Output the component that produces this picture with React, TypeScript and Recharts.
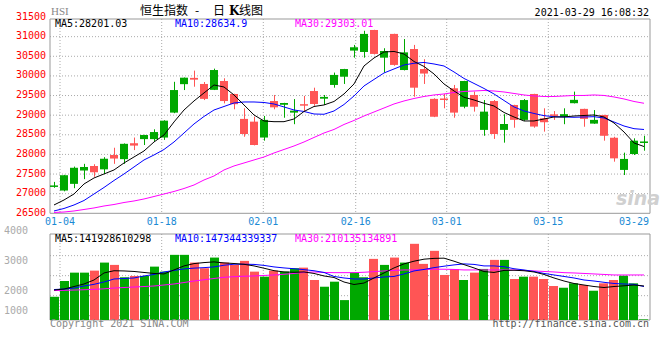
import React from 'react';
import { ComposedChart, Bar, Line, XAxis, YAxis, CartesianGrid, ReferenceArea } from 'recharts';

// ---------- data ----------
const OPEN = [27190, 27080, 27250, 27590, 27705, 27620, 27985, 27880, 28285, 28390,
  28390, 28430, 29065, 29790, 29950, 29795, 29645, 29870, 29540, 28905,
  28835, 28430, 29360, 29265, 29065, 29280, 29615, 29420, 29770, 29980,
  30645, 30610, 31170, 30465, 31070, 30150, 30685, 30175, 29415, 29425,
  29685, 29215, 29515, 28625, 29360, 28625, 29260, 28880, 29540, 28920,
  29020, 28960, 29305, 29160, 28785, 29005, 28425, 27605, 28010, 28300];
const HIGH = [27300, 27480, 27690, 27760, 27750, 27930, 28170, 28280, 28430, 28500,
  28640, 28870, 29850, 29960, 30135, 29845, 30185, 29940, 29545, 29175,
  28960, 28980, 29515, 29315, 29410, 29490, 29700, 29515, 30085, 30180,
  30790, 31150, 31175, 30705, 31075, 30940, 30790, 30425, 29430, 29540,
  29770, 29875, 29600, 29385, 29385, 29025, 29265, 29410, 29545, 29175,
  29105, 29175, 29600, 29165, 29130, 29010, 28450, 28045, 28410, 28475];
const LOW = [27150, 27060, 27140, 27370, 27430, 27500, 27760, 27760, 28110, 28240,
  28325, 28370, 29050, 29640, 29725, 29385, 29640, 29300, 29150, 28450,
  28230, 28350, 29150, 28935, 28770, 29080, 29240, 29260, 29700, 29795,
  30465, 30465, 30545, 30085, 30260, 30140, 29470, 29795, 28950, 29175,
  28935, 29175, 29090, 28475, 28395, 28300, 28680, 28855, 28680, 28580,
  28880, 28770, 29300, 28705, 28780, 28350, 27815, 27475, 27985, 28095];
const CLOSE = [27210, 27470, 27660, 27680, 27545, 27890, 27895, 28270, 28225, 28495,
  28570, 28860, 29640, 29955, 29905, 29415, 30150, 29360, 29280, 28520,
  28240, 28880, 29200, 29310, 29115, 29270, 29285, 29465, 30025, 30175,
  30730, 31070, 30560, 30635, 30280, 30600, 29700, 30060, 28960, 29415,
  29065, 29870, 29215, 29090, 28520, 28775, 28880, 29385, 28710, 28820,
  29005, 29025, 29390, 28905, 28880, 28475, 27900, 27885, 28350, 28330];

const MA5 = [26712, 26839, 26992, 27247, 27400, 27502, 27604, 27782, 27935, 28088,
  28317, 28495, 28827, 29132, 29362, 29566, 29769, 29718, 29515, 29260,
  29005, 28852, 28834, 28834, 28903, 29094, 29221, 29260, 29349, 29540,
  29795, 30254, 30457, 30610, 30623, 30559, 30368, 30241, 30050, 29795,
  29617, 29456, 29387, 29303, 29234, 29069, 28954, 28852, 28852, 28903,
  28954, 28954, 28979, 28992, 29005, 28954, 28801, 28572, 28292, 28201];
const MA10 = [26559, 26623, 26712, 26826, 26992, 27158, 27336, 27502, 27680, 27859,
  27986, 28126, 28317, 28546, 28776, 28967, 29132, 29221, 29311, 29336,
  29336, 29323, 29285, 29209, 29132, 29094, 29030, 29023, 29107, 29272,
  29489, 29744, 29910, 30075, 30177, 30279, 30322, 30343, 30304, 30253,
  30101, 29935, 29808, 29680, 29540, 29374, 29209, 29107, 29043, 28987,
  28961, 28954, 28946, 28954, 28961, 28928, 28826, 28724, 28656, 28635];
const MA30 = [26521, 26533, 26559, 26597, 26636, 26686, 26724, 26775, 26814, 26865,
  26928, 26992, 27056, 27132, 27221, 27349, 27451, 27604, 27706, 27782,
  27859, 27935, 28037, 28126, 28215, 28317, 28432, 28546, 28636, 28763,
  28865, 28979, 29081, 29183, 29285, 29362, 29425, 29476, 29515, 29540,
  29578, 29604, 29616, 29629, 29616, 29591, 29553, 29515, 29489, 29476,
  29476, 29489, 29502, 29502, 29515, 29502, 29464, 29413, 29349, 29303];

const VOLUME = [1783, 2315, 2597, 2597, 2665, 2936, 2858, 2441, 2485, 2485,
  2800, 2631, 3197, 3197, 2936, 2746, 3105, 2936, 2858, 2993,
  2631, 2461, 2665, 2631, 2746, 2766, 2349, 2122, 2292, 1671,
  2610, 2441, 3061, 2858, 3105, 2936, 3569, 2892, 3332, 2519,
  2712, 2349, 2597, 2722, 3027, 3027, 2383, 2461, 2461, 2383,
  2146, 2088, 2237, 2180, 1987, 2237, 2349, 2495, 2237, 1020];
const VOL_MA5 = [2010, 2044, 2129, 2214, 2349, 2586, 2661, 2654, 2637, 2603,
  2570, 2553, 2688, 2824, 2902, 2936, 2959, 2925, 2905, 2878,
  2824, 2746, 2664, 2620, 2610, 2620, 2570, 2485, 2434, 2281,
  2197, 2247, 2417, 2586, 2756, 2892, 2983, 3051, 3078, 3085,
  2983, 2868, 2756, 2634, 2603, 2671, 2678, 2661, 2620, 2536,
  2417, 2315, 2231, 2180, 2129, 2095, 2129, 2153, 2180, 2146];
const VOL_MA10 = [2027, 2044, 2078, 2146, 2203, 2281, 2383, 2400, 2417, 2485,
  2536, 2620, 2671, 2722, 2749, 2766, 2790, 2847, 2881, 2881,
  2875, 2841, 2790, 2756, 2729, 2698, 2661, 2603, 2468, 2417,
  2383, 2383, 2417, 2451, 2468, 2553, 2654, 2705, 2766, 2814,
  2858, 2892, 2875, 2824, 2824, 2797, 2729, 2688, 2637, 2570,
  2519, 2468, 2417, 2349, 2315, 2271, 2231, 2214, 2203, 2129];
const VOL_MA30 = [1993, 2000, 2010, 2020, 2034, 2051, 2078, 2095, 2112, 2129,
  2146, 2180, 2214, 2264, 2315, 2356, 2400, 2441, 2461, 2475,
  2485, 2502, 2519, 2542, 2570, 2603, 2620, 2603, 2597, 2597,
  2597, 2610, 2631, 2654, 2671, 2688, 2688, 2705, 2712, 2712,
  2705, 2688, 2688, 2688, 2688, 2688, 2688, 2671, 2654, 2637,
  2620, 2597, 2586, 2570, 2553, 2536, 2519, 2519, 2519, 2519];

const DATE_LABELS = ['01-04', '01-18', '02-01', '02-16', '03-01', '03-15', '03-29'];
const DATE_POS = [1, 11.17, 21.33, 30.57, 39.67, 49.83, 60];
const PRICE_TICKS = [26500, 27000, 27500, 28000, 28500, 29000, 29500, 30000, 30500, 31000, 31500];
const PRICE_GRID = [27000, 27500, 28000, 28500, 29000, 29500, 30000, 30500, 31000];
const VOL_TICKS = [1000, 2000, 3000, 4000];
const VOL_GRID = [1145, 1820, 2495, 3170];

// ---------- styles ----------
const RED = '#ff5555';
const GREEN = '#00a800';
const MONO = '"DejaVu Sans Mono", "Liberation Mono", monospace';
const CJK = '"Noto Sans CJK SC", sans-serif';
const GRID = '#aaaaaa';

const priceData = OPEN.map((o, i) => ({
  x: i + 0.4,
  range: [LOW[i], HIGH[i]],
  open: o, high: HIGH[i], low: LOW[i], close: CLOSE[i],
  ma5: MA5[i], ma10: MA10[i], ma30: MA30[i],
}));
const volData = VOLUME.map((v, i) => ({
  x: i + 0.4,
  vol: v,
  up: CLOSE[i] >= OPEN[i],
  ma5: VOL_MA5[i], ma10: VOL_MA10[i], ma30: VOL_MA30[i],
}));

const Candle = (p: any) => {
  const { x, y, width, height, payload } = p;
  if (x == null || y == null) return null;
  const { open, close, high, low } = payload;
  const color = close >= open ? GREEN : RED;
  const span = high - low;
  const yOf = (v: number) => (span === 0 ? y : y + ((high - v) / span) * height);
  const top = yOf(Math.max(open, close));
  const bot = yOf(Math.min(open, close));
  const cx = Math.floor(x + width / 2) + 0.5;
  return (
    <g>
      <line x1={cx} x2={cx} y1={y} y2={y + height} stroke={color} strokeWidth={1} />
      <rect x={Math.round(x)} y={top} width={width} height={Math.max(bot - top, 1.5)} fill={color} />
    </g>
  );
};

const VolBar = (p: any) => {
  const { x, y, width, height, payload } = p;
  if (x == null || y == null) return null;
  return <rect x={Math.ceil(x)} y={y} width={width} height={Math.max(height, 1)} fill={payload.up ? GREEN : RED} />;
};

const DateTick = (p: any) => {
  const { x, y, payload } = p;
  const idx = DATE_POS.indexOf(payload.value);
  const last = idx === DATE_POS.length - 1;
  return (
    <text x={last ? x - 1 : x} y={y} dy={7} textAnchor={last ? 'end' : 'middle'} fill="#1a8ad4" fontSize={10} fontFamily={MONO}>
      {DATE_LABELS[idx]}
    </text>
  );
};

const PriceTick = (p: any) => {
  const { x, y, payload } = p;
  return (
    <text x={x} y={y} dy={2.5} textAnchor="end" fill="#ff0000" fontSize={10} fontFamily={MONO}>
      {payload.value}
    </text>
  );
};

const VolTick = (p: any) => {
  const { x, y, payload } = p;
  const dy = payload.value === VOL_TICKS[0] ? -5.7 : 3.3;
  return (
    <text x={x} y={y} dy={dy} textAnchor="end" fill="#aaaaaa" fontSize={10} fontFamily={MONO}>
      {payload.value}
    </text>
  );
};

export default function App() {
  return (
    <div style={{ position: 'absolute', left: 0, top: 0, width: 660, height: 360, background: '#fff', overflow: 'hidden' }}>
      <div style={{ position: 'absolute', left: 0, top: 0 }}>
        <ComposedChart width={660} height={360} data={priceData} margin={{ top: 19, right: 10, bottom: 129.7, left: 0 }}>
          <CartesianGrid stroke={GRID} strokeDasharray="1 2" horizontalValues={PRICE_GRID} verticalValues={DATE_POS.slice(0, 6)} />
          <XAxis type="number" dataKey="x" domain={[0, 60]} ticks={DATE_POS} interval={0} tick={<DateTick />}
            axisLine={false} tickLine={false} tickSize={0} tickMargin={5} height={17} allowDataOverflow />
          <YAxis type="number" domain={[26500, 31450]} ticks={PRICE_TICKS} interval={0} tick={<PriceTick />}
            axisLine={false} tickLine={false} tickSize={0} tickMargin={4} width={50} allowDataOverflow />
          <ReferenceArea x1={0} x2={60} y1={26500} y2={31450} fill="none" stroke="#999" strokeWidth={1} />
          <Bar dataKey="range" barSize={8} shape={(p: any) => <Candle {...p} />} isAnimationActive={false} />
          <Line dataKey="ma30" stroke="#ff00ff" strokeWidth={1} dot={false} isAnimationActive={false} />
          <Line dataKey="ma10" stroke="#0000ff" strokeWidth={1} dot={false} isAnimationActive={false} />
          <Line dataKey="ma5" stroke="#000000" strokeWidth={1} dot={false} isAnimationActive={false} />
        </ComposedChart>
      </div>
      <div style={{ position: 'absolute', left: 0, top: 0 }}>
        <ComposedChart width={660} height={360} data={volData} margin={{ top: 234, right: 10, bottom: 40, left: 0 }}>
          <CartesianGrid stroke={GRID} strokeDasharray="1 2" horizontalValues={VOL_GRID} verticalValues={DATE_POS.slice(0, 6)} />
          <XAxis type="number" dataKey="x" domain={[0, 60]} ticks={DATE_POS} hide allowDataOverflow />
          <YAxis type="number" domain={[1000, 3900]} ticks={VOL_TICKS} interval={0} tick={<VolTick />}
            axisLine={false} tickLine={false} tickSize={0} tickMargin={22} width={50} allowDataOverflow />
          <ReferenceArea x1={0} x2={60} y1={1000} y2={3900} fill="none" stroke="#999" strokeWidth={1} />
          <Bar dataKey="vol" barSize={9} shape={(p: any) => <VolBar {...p} />} isAnimationActive={false} />
          <Line dataKey="ma30" stroke="#ff00ff" strokeWidth={1} dot={false} isAnimationActive={false} />
          <Line dataKey="ma10" stroke="#0000ff" strokeWidth={1} dot={false} isAnimationActive={false} />
          <Line dataKey="ma5" stroke="#000000" strokeWidth={1} dot={false} isAnimationActive={false} />
        </ComposedChart>
      </div>
      <svg width={660} height={360} style={{ position: 'absolute', left: 0, top: 0 }}>
        <text x={51} y={15} fontSize={11} fontFamily="serif" fill="#888">HSI</text>
        <text y={15} fontSize={12} fontFamily={CJK} fill="#000">
          <tspan x={140}>恒生指数</tspan>
          <tspan x={195}>-</tspan>
          <tspan x={213}>日</tspan>
          <tspan x={229} fontWeight="bold" fontFamily='"DejaVu Serif", serif'>K</tspan>
          <tspan x={239}>线图</tspan>
        </text>
        <text x={649} y={15.5} fontSize={10} textAnchor="end" fontFamily={MONO} fill="#000">2021-03-29 16:08:32</text>
        <text x={55} y={27} fontSize={10} fontFamily={MONO} fill="#000">MA5:28201.03</text>
        <text x={175} y={27} fontSize={10} fontFamily={MONO} fill="#0000ff">MA10:28634.9</text>
        <text x={295} y={27} fontSize={10} fontFamily={MONO} fill="#ff00ff">MA30:29303.01</text>
        <text x={55} y={241.7} fontSize={10} fontFamily={MONO} fill="#000">MA5:141928610298</text>
        <text x={175} y={241.7} fontSize={10} fontFamily={MONO} fill="#0000ff">MA10:147344339337</text>
        <text x={295} y={241.7} fontSize={10} fontFamily={MONO} fill="#ff00ff">MA30:210135134891</text>
        <text x={616} y={205} fontSize={19} fontStyle="italic" fontWeight="bold" fontFamily='"DejaVu Sans", sans-serif' fill="#d0d0d0">sina</text>
        <text x={50} y={327} fontSize={10} fontFamily={MONO} fill="#888">Copyright 2021 SINA.COM</text>
        <text x={649} y={327} fontSize={10} textAnchor="end" fontFamily={MONO} fill="#555">http://finance.sina.com.cn</text>
      </svg>
    </div>
  );
}
